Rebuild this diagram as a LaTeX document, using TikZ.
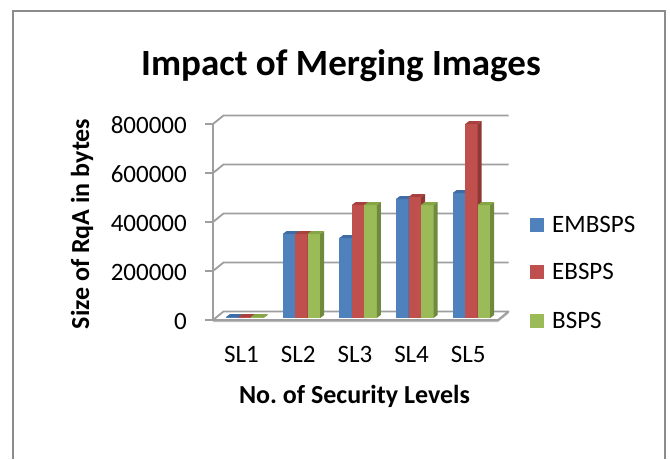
\documentclass[tikz,border=0pt]{standalone}
\usepackage{fontspec}
\setmainfont{Carlito}
\frenchspacing
\definecolor{gridc}{HTML}{9E9E9E}
\definecolor{framec}{HTML}{8C8C8C}
\definecolor{bfront}{HTML}{4F81BD}
\definecolor{bside}{HTML}{38608F}
\definecolor{btop}{HTML}{3F6CA3}
\definecolor{rfront}{HTML}{C0504D}
\definecolor{rside}{HTML}{8E3835}
\definecolor{rtop}{HTML}{A8413E}
\definecolor{gfront}{HTML}{9BBB59}
\definecolor{gside}{HTML}{6F8A3C}
\definecolor{gtop}{HTML}{86A544}
\newcommand\drawbar[5]{%
  \fill[#3] (#1,318-#2) rectangle (#1+12.5,318);
  \fill[#4] (#1+12.5,318) -- (#1+16.5,315) -- (#1+16.5,315-#2) -- (#1+12.5,318-#2) -- cycle;
  \fill[#5] (#1,318-#2) -- (#1+4,315-#2) -- (#1+16.5,315-#2) -- (#1+12.5,318-#2) -- cycle;
}
\newcommand\drawgroup[4]{%
  \drawbar{#1}{#2}{bfront}{bside}{btop}
  \drawbar{#1+12.5}{#3}{rfront}{rside}{rtop}
  \drawbar{#1+25}{#4}{gfront}{gside}{gtop}
}
\begin{document}
\begin{tikzpicture}[x=1pt,y=-1pt,
  grid/.style={draw=gridc,line width=1.8pt},
  frame/.style={draw=framec,line width=1.8pt},
  lbl/.style={inner sep=0pt,font=\fontsize{25}{30}\selectfont},
  blbl/.style={inner sep=0pt,font=\fontsize{26}{31}\selectfont\bfseries},
  legsq/.style={minimum size=14pt,inner sep=0pt,anchor=south west}]
\useasboundingbox (0,0) rectangle (670,459);
\fill[white] (0,0) rectangle (670,459);
\draw[frame] (13,459) -- (13,11) -- (665,11) -- (665,459);
% walls and gridlines
\foreach \y in {124,173,222,271} {
  \draw[grid,line join=round] (205,\y) -- (213,\y) -- (223.5,\y-8.5) -- (508.5,\y-8.5);
}
\draw[grid] (213,124) -- (213,320);
\fill[gridc!70] (213,320) -- (498,320) -- (508.5,311.5) -- (508.5,313.5) -- (498,322) -- (213,322) -- cycle;
\draw[grid,fill=white,line join=round] (213,320) -- (223.5,311.5) -- (508.5,311.5) -- (498,320) -- cycle;
\draw[grid] (205,320) -- (213,320);
% bars
\drawgroup{226}{1}{1}{1}
\drawgroup{282.7}{84}{84}{84}
\drawgroup{339.3}{80}{113}{113}
\drawgroup{396}{119}{121}{113}
\drawgroup{452.7}{125}{194}{113}
% tick labels
\node[lbl,anchor=base east] (t8) at (187,133.5) {800000};
\node[lbl,anchor=base east] (t6) at (187,182.5) {600000};
\node[lbl,anchor=base east] (t4) at (187,231.5) {400000};
\node[lbl,anchor=base east] (t2) at (187,280.5) {200000};
\node[lbl,anchor=base east] (t0) at (187,329.5) {0};
% category labels
\node[lbl,anchor=base] (c1) at (241.5,362.7) {SL1};
\node[lbl,anchor=base] (c2) at (298.2,362.7) {SL2};
\node[lbl,anchor=base] (c3) at (354.9,362.7) {SL3};
\node[lbl,anchor=base] (c4) at (411.6,362.7) {SL4};
\node[lbl,anchor=base] (c5) at (468.3,362.7) {SL5};
% titles
\node[inner sep=0pt,anchor=base,font=\fontsize{37}{44}\selectfont\bfseries] (title) at (341,75) {Impact of Merging Images};
\node[blbl,anchor=base] (xt) at (354.5,403.3) {No. of Security Levels};
\node[blbl,rotate=90] (yt) at (82,224) {Size of RqA in bytes};
% legend
\node[legsq,fill=bfront] (lb) at (530,232.3) {};
\node[legsq,fill=rfront] (lr) at (530,279.3) {};
\node[legsq,fill=gfront] (lg) at (530,328.3) {};
\node[lbl,anchor=base west] (le1) at (552,232.3) {EMBSPS};
\node[lbl,anchor=base west] (le2) at (552,279.3) {EBSPS};
\node[lbl,anchor=base west] (le3) at (552,328.3) {BSPS};
\end{tikzpicture}
\end{document}
